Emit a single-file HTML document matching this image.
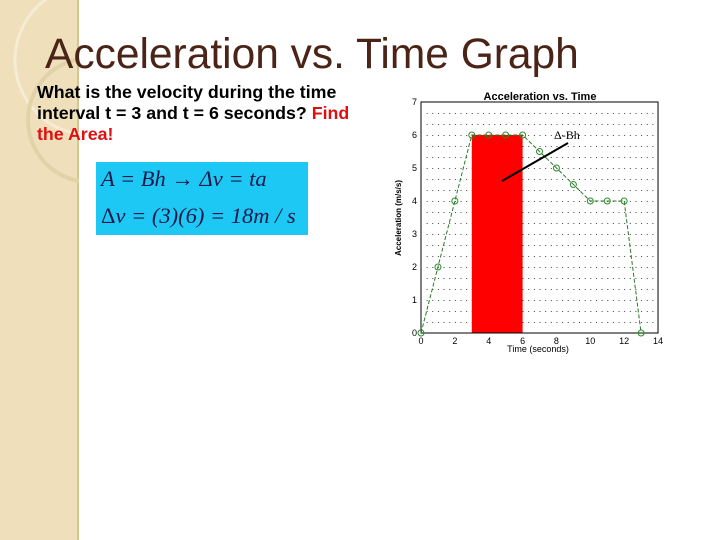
<!DOCTYPE html>
<html><head><meta charset="utf-8"><style>
body{margin:0;width:720px;height:540px;background:#fff;position:relative;overflow:hidden;font-family:"Liberation Sans",sans-serif}
.abs{position:absolute}
</style></head><body>
<div class="abs" style="left:0;top:0;width:77px;height:540px;background:#efe0bb;border-right:2px solid #d8c596"></div>
<svg class="abs" style="left:0;top:0" width="79" height="260">
<circle cx="90" cy="60" r="75" fill="none" stroke="#f6ecd6" stroke-width="3"/>
<circle cx="90" cy="120" r="62" fill="none" stroke="#e2d2aa" stroke-width="4"/>
</svg>
<div class="abs" style="left:45px;top:31px;font-size:42.5px;color:#4b2418;white-space:nowrap">Acceleration vs. Time Graph</div>
<div class="abs" style="left:37px;top:82px;width:325px;font-size:17.8px;font-weight:bold;line-height:21px;color:#000">What is the velocity during the time interval t = 3 and t = 6 seconds? <span style="color:#e01010">Find the Area!</span></div>
<div class="abs" style="left:96px;top:162px;width:212px;height:73px;background:#1ec8f5;font-family:'Liberation Serif',serif;font-size:22.5px;color:#1a1a4a;font-style:italic">
<div style="position:absolute;left:5px;top:4px;white-space:nowrap">A = Bh → Δv = ta</div>
<div style="position:absolute;left:5px;top:41px;white-space:nowrap"><span style="font-style:normal">Δ</span>v = (3)(6) = 18m / s</div>
</div>
<svg id="chart" class="abs" style="left:0;top:0" width="720" height="540"></svg>
<script>
const times=[0,1,2,3,4,5,6,7,8,9,10,11,12,13];
const accel=[0,2,4,6,6,6,6,5.5,5,4.5,4,4,4,0];
const xTicks=[0,2,4,6,8,10,12,14];
const yTicks=[0,1,2,3,4,5,6,7];
const area=[3,6,6];
const NS="http://www.w3.org/2000/svg";
const svg=document.getElementById('chart');
const X=v=>421+v*16.93, Y=v=>333-v*33;
function mk(t,a){const e=document.createElementNS(NS,t);for(const k in a)e.setAttribute(k,a[k]);svg.appendChild(e);return e;}
for(let i=1;i<42;i++)for(let j=1;j<21;j++){mk('rect',{x:X(i/3),y:Y(j/3),width:1,height:1,fill:'#444'});}
const ar=mk('rect',{x:X(area[0]),y:Y(area[2]),width:X(area[1])-X(area[0]),height:Y(0)-Y(area[2]),fill:'#ff0000'});

const fr=mk('rect',{x:X(0),y:Y(7),width:X(14)-X(0),height:Y(0)-Y(7),fill:'none',stroke:'#000','stroke-width':1});

xTicks.forEach(v=>{const t=mk('text',{x:X(v),y:344,'font-size':9,'text-anchor':'middle',fill:'#000'});t.textContent=v;
});
yTicks.forEach(v=>{const t=mk('text',{x:417,y:Y(v)+3,'font-size':9,'text-anchor':'end',fill:'#000'});t.textContent=v;
});
const ln=mk('polyline',{points:times.map((t,i)=>X(t)+','+Y(accel[i])).join(' '),fill:'none',stroke:'#2a7a2a','stroke-width':1,'stroke-dasharray':'4,2'});

times.forEach((t,i)=>{const c=mk('circle',{cx:X(t),cy:Y(accel[i]),r:3,fill:'none',stroke:'#2a8a2a'});
});
const tt=mk('text',{x:540,y:100,'font-size':11,'font-weight':'bold','text-anchor':'middle'});tt.textContent='Acceleration vs. Time';

const xl=mk('text',{x:538,y:352,'font-size':9,'text-anchor':'middle'});xl.textContent='Time (seconds)';

const yl=mk('text',{x:0,y:0,'font-size':8,'font-weight':'bold','text-anchor':'middle',transform:'translate(401,218) rotate(-90)'});yl.textContent='Acceleration (m/s/s)';

const al=mk('line',{x1:502,y1:181,x2:568,y2:143,stroke:'#000','stroke-width':2});

const at=mk('text',{x:554,y:139,'font-size':12,'font-family':'Liberation Serif'});at.textContent='Δ-Bh';

</script>
</body></html>
